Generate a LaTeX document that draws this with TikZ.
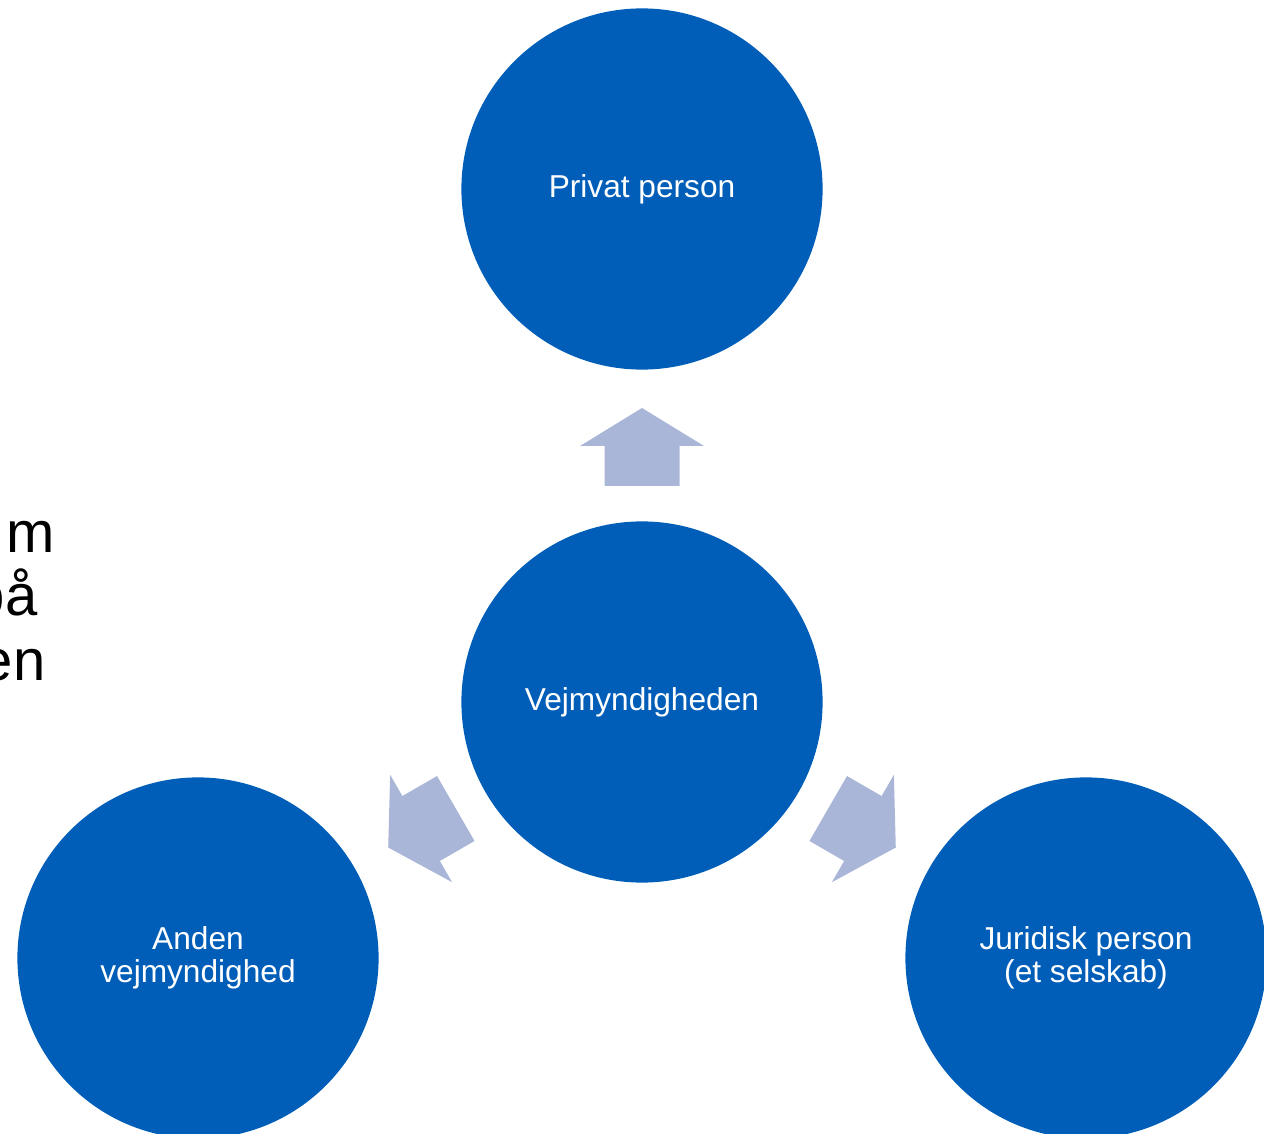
\documentclass[tikz,border=0pt]{standalone}
\usepackage{fontspec}
\setmainfont{Liberation Sans}
\definecolor{vejblue}{RGB}{0,94,184}
\definecolor{arrowblue}{RGB}{170,182,216}
\tikzset{
  party/.style={circle, fill=vejblue, minimum size=3.61cm, inner sep=0pt,
    text=white, align=center, font=\fontsize{9}{9.4}\selectfont},
  cuttext/.style={anchor=base east, inner sep=0pt, font=\fontsize{16.5}{19}\selectfont},
  blockarrow/.style={fill=arrowblue},
}
\begin{document}
\begin{tikzpicture}[x=0.01cm, y=-0.01cm]
\useasboundingbox (0,0) rectangle (1264,1134);
% text cut off at the left edge
\node[cuttext] (cutm) at (56,553){m};
\node[cuttext] (cutpa) at (38,616){på};
\node[cuttext] (cuten) at (46,680){en};
% the four parties
\node[party] (vej) at (642,702){Vejmyndigheden};
\node[party] (privat) at (642,189){Privat person};
\node[party] (anden) at (198,958){Anden\\vejmyndighed};
\node[party] (juridisk) at (1086,958){Juridisk person\\(et selskab)};
% block arrows out of the centre
\foreach \ang/\px/\py in {0/642/447, 120/422/828, -120/862/828}
  \fill[blockarrow, shift={(\px,\py)}, rotate=\ang]
    (0,-39) -- (62,-1) -- (37.5,-1) -- (37.5,39) -- (-37.5,39) -- (-37.5,-1) -- (-62,-1) -- cycle;
\end{tikzpicture}
\end{document}
